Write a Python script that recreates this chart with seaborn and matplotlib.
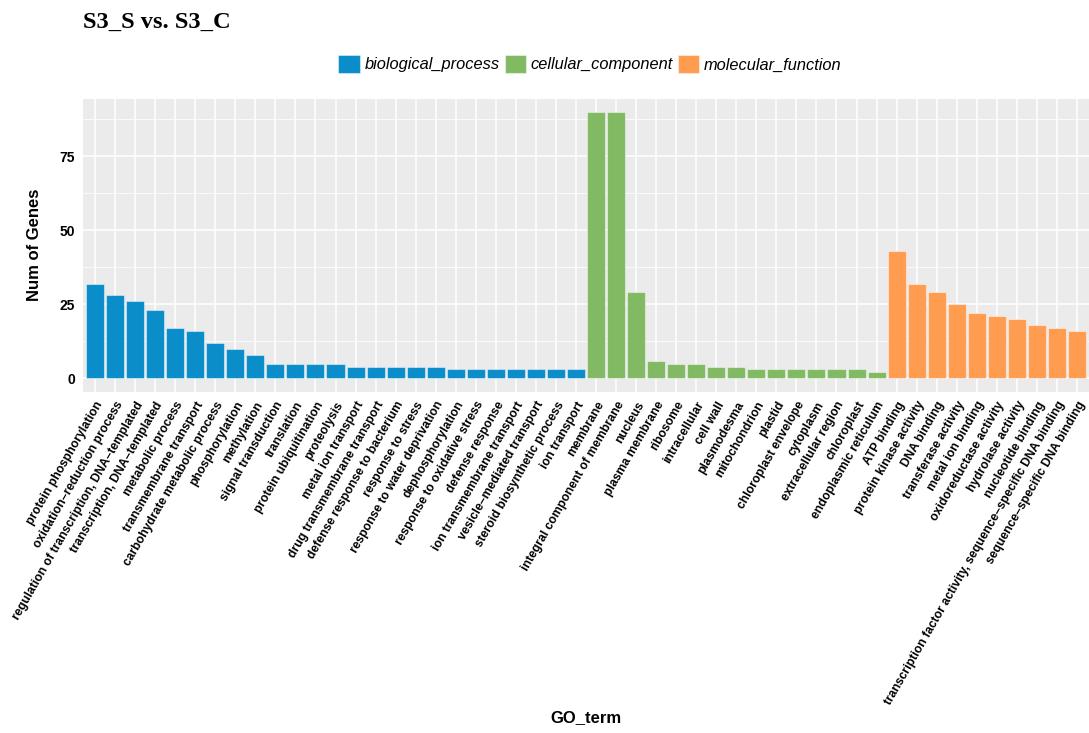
import matplotlib
matplotlib.use("Agg")
import matplotlib.pyplot as plt
import seaborn as sns
import pandas as pd
from matplotlib.ticker import FixedLocator

# GO terms per ontology, in plotted order
bp_terms = [
    "protein phosphorylation", "oxidation−reduction process",
    "regulation of transcription, DNA−templated", "transcription, DNA−templated",
    "metabolic process", "transmembrane transport", "carbohydrate metabolic process",
    "phosphorylation", "methylation", "signal transduction", "translation",
    "protein ubiquitination", "proteolysis", "metal ion transport",
    "drug transmembrane transport", "defense response to bacterium",
    "response to stress", "response to water deprivation", "dephosphorylation",
    "response to oxidative stress", "defense response", "ion transmembrane transport",
    "vesicle−mediated transport", "steroid biosynthetic process", "ion transport",
]
bp_counts = [32, 28, 26, 23, 17, 16, 12, 10, 8, 5, 5, 5, 5, 4, 4, 4, 4, 4,
             3, 3, 3, 3, 3, 3, 3]

cc_terms = [
    "membrane", "integral component of membrane", "nucleus", "plasma membrane",
    "ribosome", "intracellular", "cell wall", "plasmodesma", "mitochondrion",
    "plastid", "chloroplast envelope", "cytoplasm", "extracellular region",
    "chloroplast", "endoplasmic reticulum",
]
cc_counts = [90, 90, 29, 6, 5, 5, 4, 4, 3, 3, 3, 3, 3, 3, 2]

mf_terms = [
    "ATP binding", "protein kinase activity", "DNA binding", "transferase activity",
    "metal ion binding", "oxidoreductase activity", "hydrolase activity",
    "nucleotide binding",
    "transcription factor activity, sequence−specific DNA binding",
    "sequence−specific DNA binding",
]
mf_counts = [43, 32, 29, 25, 22, 21, 20, 18, 17, 16]

categories = ["biological_process", "cellular_component", "molecular_function"]
colors = ["#0A8DC8", "#82BA64", "#FF9C50"]

df = pd.DataFrame({
    "GO_term": bp_terms + cc_terms + mf_terms,
    "Num of Genes": bp_counts + cc_counts + mf_counts,
    "category": [categories[0]] * len(bp_terms)
    + [categories[1]] * len(cc_terms)
    + [categories[2]] * len(mf_terms),
})

sns.set_theme(style="darkgrid")
plt.rcParams["font.family"] = ["Liberation Sans", "DejaVu Sans"]
plt.rcParams["text.color"] = "black"
plt.rcParams["axes.labelcolor"] = "black"

fig = plt.figure(figsize=(10.89, 7.33), dpi=100)
ax = fig.add_axes([83 / 1089, 1 - 391.7 / 733, 1 - 83 / 1089, (391.7 - 98.5) / 733])
ax.set_facecolor("#EBEBEB")

sns.barplot(
    data=df, x="GO_term", y="Num of Genes", hue="category",
    order=list(df["GO_term"]), hue_order=categories,
    palette=dict(zip(categories, colors)), dodge=False, width=0.9,
    saturation=1, edgecolor=(1, 1, 1, 0.45), linewidth=0.8, ax=ax, zorder=3,
)

n = len(df)
ax.set_xlim(-0.6, n - 1 + 0.6)
ax.set_ylim(-4.5, 94.5)
ax.yaxis.set_major_locator(FixedLocator([0, 25, 50, 75]))
ax.yaxis.set_minor_locator(FixedLocator([12.5, 37.5, 62.5, 87.5]))
ax.grid(which="major", color="white", linewidth=1.1, zorder=0)
ax.grid(which="minor", axis="y", color="white", linewidth=0.55, zorder=0)
ax.set_axisbelow(True)
for s in ax.spines.values():
    s.set_visible(False)

ax.tick_params(axis="both", which="major", length=3.5, width=1, color="#333333",
               pad=2, labelcolor="black")
ax.tick_params(axis="y", which="major", labelsize=10)
ax.tick_params(axis="y", which="minor", length=0)
for lab in ax.get_yticklabels():
    lab.set_fontweight("bold")
ax.set_xticks(range(n))
ax.set_xticklabels(df["GO_term"], rotation=60, ha="right", va="top",
                   rotation_mode="anchor", fontsize=8.7, fontweight="bold")

ax.set_xlabel("GO_term", fontsize=12, fontweight="bold", labelpad=0)
ax.set_ylabel("Num of Genes", fontsize=12, fontweight="bold", labelpad=13)
ax.xaxis.set_label_coords(0.5, -(710 - 391.7) / (391.7 - 98.5))

handles, labels = ax.get_legend_handles_labels()
ax.get_legend().remove()
fig.legend(handles, labels, loc="center", bbox_to_anchor=(590 / 1089, 1 - 64 / 733),
           ncol=3, frameon=False, prop={"style": "italic", "size": 11.8},
           handlelength=1.3, handleheight=1.3, handletextpad=0.3,
           columnspacing=0.3, borderpad=0)

fig.text(83 / 1089, 1 - 22 / 733, "S3_S vs. S3_C", ha="left", va="center",
         fontsize=17.6, fontweight="bold", color="black",
         family=["Liberation Serif", "DejaVu Serif"])

fig.savefig("out.png", dpi=100, facecolor="white")
